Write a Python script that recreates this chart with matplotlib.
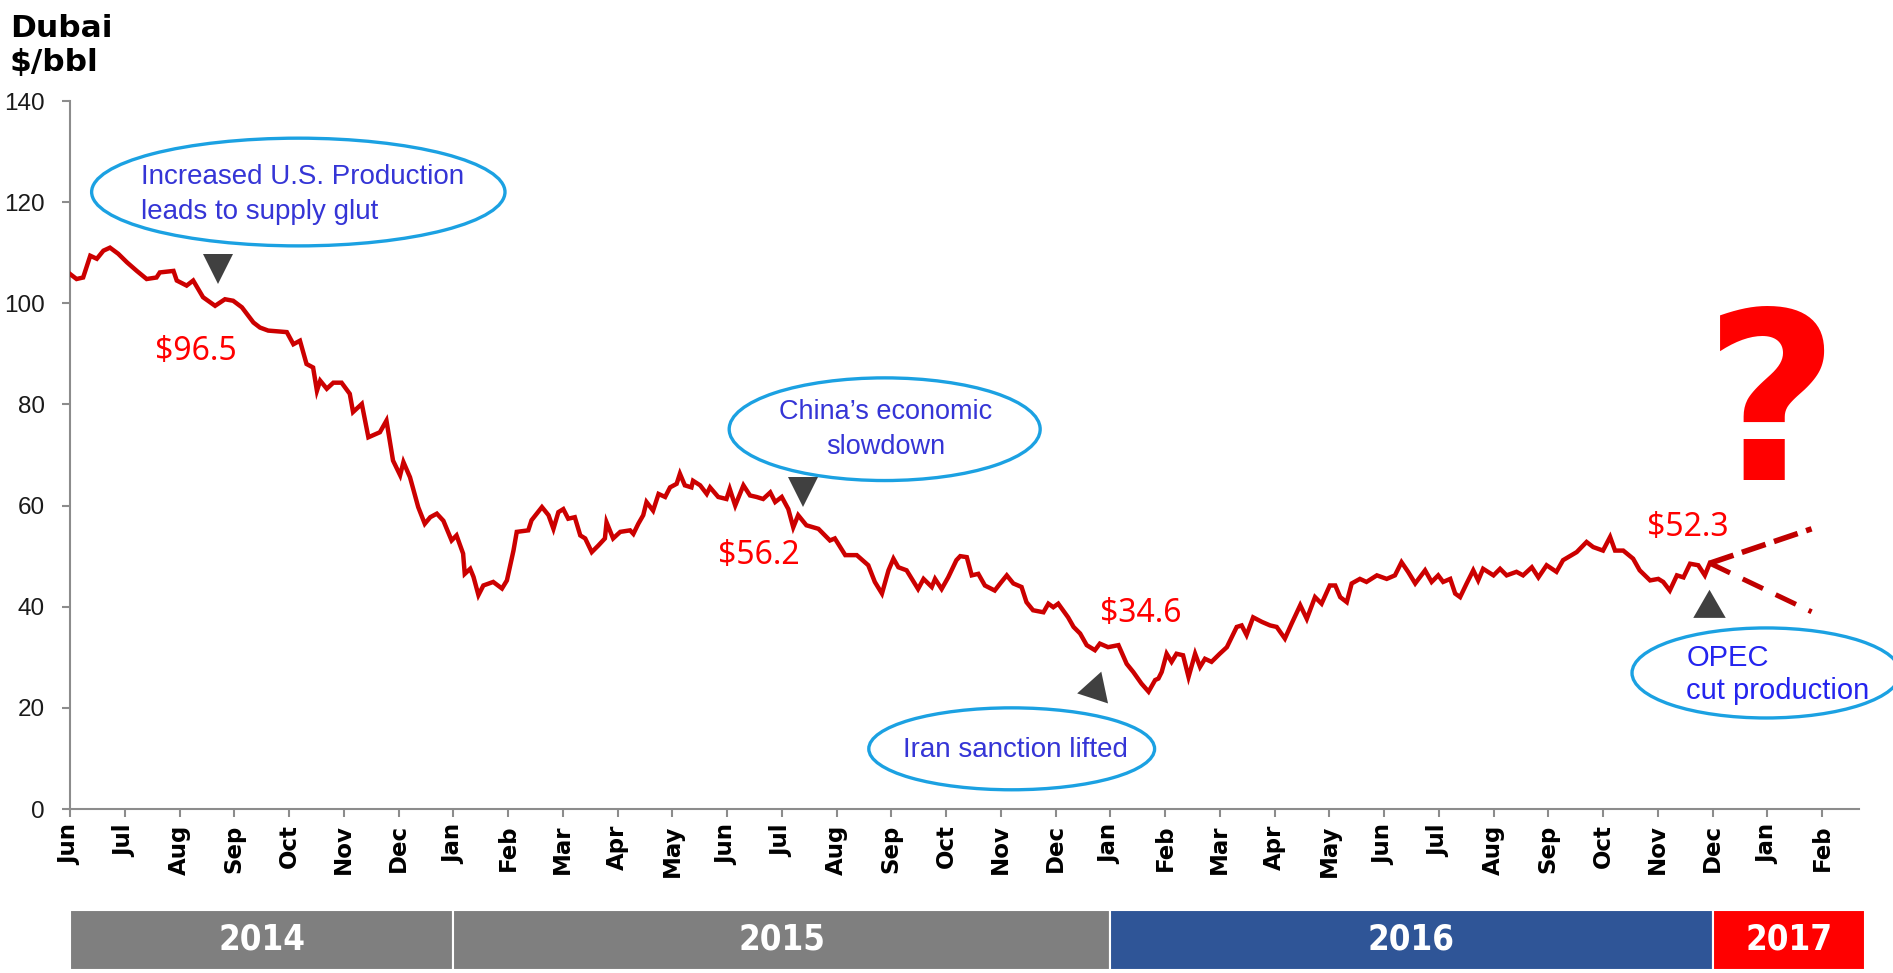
import matplotlib
matplotlib.use("Agg")
import matplotlib.pyplot as plt
from matplotlib import font_manager
from matplotlib.patches import Ellipse

# x is a month index: 0 = Jun 2014, 1 = Jul 2014, ... 32 = Feb 2017
price_month = [
    0.00, 0.12, 0.24, 0.37, 0.49, 0.61, 0.73, 0.88, 1.04, 1.22, 1.40, 1.58, 1.64,
    1.89, 1.95, 2.13, 2.25, 2.43, 2.65, 2.83, 2.98, 3.14, 3.35, 3.47, 3.62, 3.96,
    4.08, 4.20, 4.32, 4.44, 4.51, 4.57, 4.69, 4.81, 4.96, 5.11, 5.17, 5.33, 5.45,
    5.66, 5.78, 5.90, 6.03, 6.09, 6.21, 6.36, 6.48, 6.58, 6.70, 6.82, 6.97, 7.06,
    7.18, 7.21, 7.31, 7.37, 7.46, 7.55, 7.73, 7.89, 7.98, 8.10, 8.16, 8.37, 8.43,
    8.62, 8.74, 8.83, 8.92, 9.01, 9.10, 9.22, 9.32, 9.41, 9.53, 9.65, 9.77, 9.80,
    9.92, 10.05, 10.23, 10.29, 10.38, 10.47, 10.53, 10.65, 10.75, 10.87, 10.96,
    11.08, 11.14, 11.23, 11.35, 11.38, 11.51, 11.63, 11.69, 11.84, 11.99, 12.05,
    12.15, 12.30, 12.42, 12.54, 12.66, 12.79, 12.88, 13.00, 13.12, 13.21, 13.30,
    13.45, 13.67, 13.88, 13.97, 14.16, 14.37, 14.58, 14.70, 14.83, 14.95, 15.04,
    15.13, 15.28, 15.49, 15.59, 15.74, 15.80, 15.92, 16.04, 16.19, 16.26, 16.38,
    16.47, 16.59, 16.71, 16.89, 16.99, 17.11, 17.23, 17.38, 17.47, 17.59, 17.78,
    17.87, 17.96, 18.05, 18.23, 18.33, 18.45, 18.57, 18.72, 18.81, 18.96, 19.15,
    19.30, 19.42, 19.57, 19.70, 19.82, 19.88, 19.94, 20.03, 20.12, 20.21, 20.33,
    20.43, 20.55, 20.64, 20.73, 20.85, 21.00, 21.13, 21.31, 21.40, 21.49, 21.61,
    21.77, 21.92, 22.04, 22.19, 22.31, 22.47, 22.59, 22.74, 22.86, 23.01, 23.11,
    23.20, 23.32, 23.41, 23.56, 23.68, 23.87, 24.05, 24.20, 24.32, 24.44, 24.57,
    24.75, 24.87, 24.99, 25.08, 25.21, 25.30, 25.39, 25.51, 25.63, 25.72, 25.81,
    26.00, 26.12, 26.24, 26.42, 26.54, 26.70, 26.82, 26.97, 27.15, 27.27, 27.52,
    27.70, 27.82, 28.00, 28.13, 28.22, 28.37, 28.55, 28.67, 28.86, 29.01, 29.10,
    29.22, 29.35, 29.47, 29.59, 29.74, 29.86, 29.95,
]
price_value = [
    105.8, 104.8, 105.1, 109.4, 108.8, 110.4, 111.0, 109.8, 108.1, 106.4, 104.8, 105.1, 106.1,
    106.4, 104.5, 103.5, 104.5, 101.2, 99.5, 100.8, 100.5, 99.2, 96.2, 95.2, 94.6, 94.3,
    91.9, 92.6, 88.0, 87.3, 82.7, 84.7, 83.1, 84.3, 84.3, 82.1, 78.5, 80.1, 73.5,
    74.5, 76.8, 68.9, 66.0, 68.6, 65.6, 59.7, 56.4, 57.7, 58.4, 57.0, 53.1, 54.1,
    50.5, 46.5, 47.5, 45.9, 42.3, 44.2, 44.9, 43.6, 45.2, 51.1, 54.8, 55.1, 57.1,
    59.7, 58.1, 55.4, 58.7, 59.3, 57.4, 57.7, 54.1, 53.5, 50.8, 52.1, 53.5, 56.7,
    53.5, 54.8, 55.1, 54.4, 56.4, 58.1, 60.7, 59.0, 62.3, 61.7, 63.6,
    64.3, 66.3, 64.0, 63.6, 64.9, 64.0, 62.3, 63.6, 61.7, 61.3, 63.3,
    60.0, 64.0, 62.0, 61.7, 61.3, 62.6, 60.7, 61.7, 59.3, 55.7, 58.1,
    56.1, 55.4, 53.1, 53.5, 50.2, 50.2, 48.2, 44.9, 42.6, 47.2, 49.5,
    47.8, 47.2, 43.5, 45.5, 43.9, 45.5, 43.5, 45.8, 49.2, 50.0, 49.8,
    46.2, 46.5, 44.2, 43.2, 44.6, 46.2, 44.6, 43.9, 40.9, 39.3, 38.9,
    40.6, 39.9, 40.6, 37.9, 36.0, 34.7, 32.4, 31.4, 32.7, 32.0, 32.4,
    28.7, 27.1, 24.8, 23.2, 25.5, 25.8, 27.1, 30.7, 29.1, 30.7, 30.4,
    26.1, 30.7, 28.1, 29.7, 29.1, 30.7, 32.0, 36.0, 36.3, 34.4, 37.9,
    37.0, 36.3, 36.0, 33.7, 36.6, 40.3, 37.6, 41.9, 40.6, 44.2, 44.2,
    41.9, 40.9, 44.6, 45.5, 44.9, 46.2, 45.5, 46.2, 48.8, 46.9, 44.6,
    47.2, 44.9, 46.2, 44.9, 45.5, 42.6, 41.9, 44.6, 47.2, 45.2, 47.5,
    46.2, 47.5, 46.2, 46.9, 46.2, 47.8, 45.8, 48.2, 46.9, 49.2, 50.8,
    52.8, 51.8, 51.1, 53.8, 51.1, 51.1, 49.5, 47.2, 45.2, 45.5, 44.9,
    43.2, 46.2, 45.8, 48.5, 48.2, 46.2, 48.6,
]

month_labels = ["Jun", "Jul", "Aug", "Sep", "Oct", "Nov", "Dec",
                "Jan", "Feb", "Mar", "Apr", "May", "Jun", "Jul", "Aug", "Sep", "Oct", "Nov", "Dec",
                "Jan", "Feb", "Mar", "Apr", "May", "Jun", "Jul", "Aug", "Sep", "Oct", "Nov", "Dec",
                "Jan", "Feb"]

# two possible paths after the OPEC cut
outlook_month = [29.95, 31.81]
outlook_up = [48.6, 55.4]
outlook_down = [48.6, 39.0]

years = ["2014", "2015", "2016", "2017"]
year_start = [0, 7, 19, 30]
year_end = [7, 19, 30, 32.78]
year_colors = ["#7f7f7f", "#7f7f7f", "#2f5597", "#ff0000"]

price_tags = ["$96.5", "$56.2", "$34.6", "$52.3"]
tag_month = [1.55, 11.84, 18.81, 28.80]
tag_value = [90.4, 50.2, 38.7, 55.7]

event_text = ["Increased U.S. Production\nleads to supply glut",
              "China\u2019s economic\nslowdown",
              "Iran sanction lifted",
              "OPEC\ncut production"]
event_center = [(4.17, 122.0), (14.88, 75.1), (17.20, 11.9), (30.98, 26.9)]
event_size = [(7.55, 21.3), (5.68, 20.3), (5.22, 16.2), (4.90, 17.8)]

marker_month = [2.70, 13.39, 18.72, 29.94]
marker_value = [106.8, 62.6, 23.7, 39.7]
marker_shape = ["v", "v", (3, 0, -18), (3, 0, 0)]
marker_size = [21, 21, 27, 27]


def has_font(name):
    return any(f.name == name for f in font_manager.fontManager.ttflist)


sans = "Liberation Sans" if has_font("Liberation Sans") else "DejaVu Sans"
tag_font = "Noto Sans" if has_font("Noto Sans") else "DejaVu Sans"

W, H = 1893, 973
fig = plt.figure(figsize=(W / 100, H / 100), dpi=100)

x_left = 70 / W
x_width = 1789 / W
x_max = 1789 / 54.75

ax = fig.add_axes([x_left, 1 - 809 / H, x_width, 708 / H])
ax.set_xlim(0, x_max)
ax.set_ylim(0, 140)

ax.plot(price_month, price_value, color="#cc0000", lw=3.2, solid_joinstyle="miter", zorder=3)
ax.plot(outlook_month, outlook_up, color="#c00000", lw=4, dashes=(4.5, 1.6), zorder=3)
ax.plot(outlook_month, outlook_down, color="#c00000", lw=3.6, dashes=(4.5, 2.8), zorder=3)

for s in ["top", "right"]:
    ax.spines[s].set_visible(False)
for s in ["left", "bottom"]:
    ax.spines[s].set_color("#8c8c8c")
    ax.spines[s].set_linewidth(1.5)

ax.set_yticks(range(0, 141, 20))
ax.set_xticks(range(len(month_labels)))
ax.set_xticklabels(month_labels, rotation=90, fontweight="bold", fontsize=16.5,
                   family="DejaVu Sans")
ax.tick_params(axis="x", length=6, width=1.5, color="#8c8c8c", pad=5)
ax.tick_params(axis="y", length=6, width=1.5, color="#8c8c8c", pad=12,
               labelsize=17.5, labelcolor="#1a1a1a")
for lab in ax.get_yticklabels():
    lab.set_family(sans)

for txt, (cx, cy), (ew, eh) in zip(event_text, event_center, event_size):
    ax.add_patch(Ellipse((cx, cy), ew, eh, facecolor="none", edgecolor="#1ba1e2",
                         lw=2.4, clip_on=False, zorder=4))

ax.text(1.30, 121.6, event_text[0], family=sans, fontsize=20, color="#3535d6",
        ha="left", va="center", linespacing=1.45, zorder=5)
ax.text(14.90, 75.0, event_text[1], family=sans, fontsize=19.5, color="#3535d6",
        ha="center", va="center", linespacing=1.45, zorder=5)
ax.text(17.27, 11.7, event_text[2], family=sans, fontsize=20, color="#3535d6",
        ha="center", va="center", zorder=5)
ax.text(29.52, 26.6, event_text[3], family=sans, fontsize=21, color="#2424ee",
        ha="left", va="center", linespacing=1.25, zorder=5, clip_on=False)

for mx, my, shp, ms in zip(marker_month, marker_value, marker_shape, marker_size):
    ax.plot([mx], [my], marker=shp, markersize=ms, color="#404040",
            markeredgewidth=0, zorder=5, clip_on=False)

for t, mx, my in zip(price_tags, tag_month, tag_value):
    ax.text(mx, my, t, family=tag_font, fontsize=23, color="#ff0000",
            ha="left", va="center", zorder=5)

ax.text(31.07, 65.1, "?", fontsize=168, fontweight="bold", color="#ff0000",
        family="DejaVu Sans", ha="center", va="baseline", zorder=5)

fig.text(10 / W, 1 - 37 / H, "Dubai", fontsize=22.5, fontweight="bold",
         family="DejaVu Sans", va="baseline", ha="left")
fig.text(10 / W, 1 - 71 / H, "$/bbl", fontsize=22.5, fontweight="bold",
         family="DejaVu Sans", va="baseline", ha="left")

# year band under the axis
yax = fig.add_axes([x_left, 3 / H, x_width, 60 / H])
yax.set_xlim(0, x_max)
yax.set_ylim(0, 1)
yax.axis("off")
for yr, s, e, c in zip(years, year_start, year_end, year_colors):
    yax.barh(0.5, e - s, left=s, height=1, color=c, edgecolor="white", lw=1.5,
             clip_on=False)
    yax.text((s + e) / 2, 0.5, yr, color="white", fontsize=25, fontweight="bold",
             fontstretch="condensed", family="DejaVu Sans", ha="center", va="center")

fig.savefig("out.png", dpi=100)
